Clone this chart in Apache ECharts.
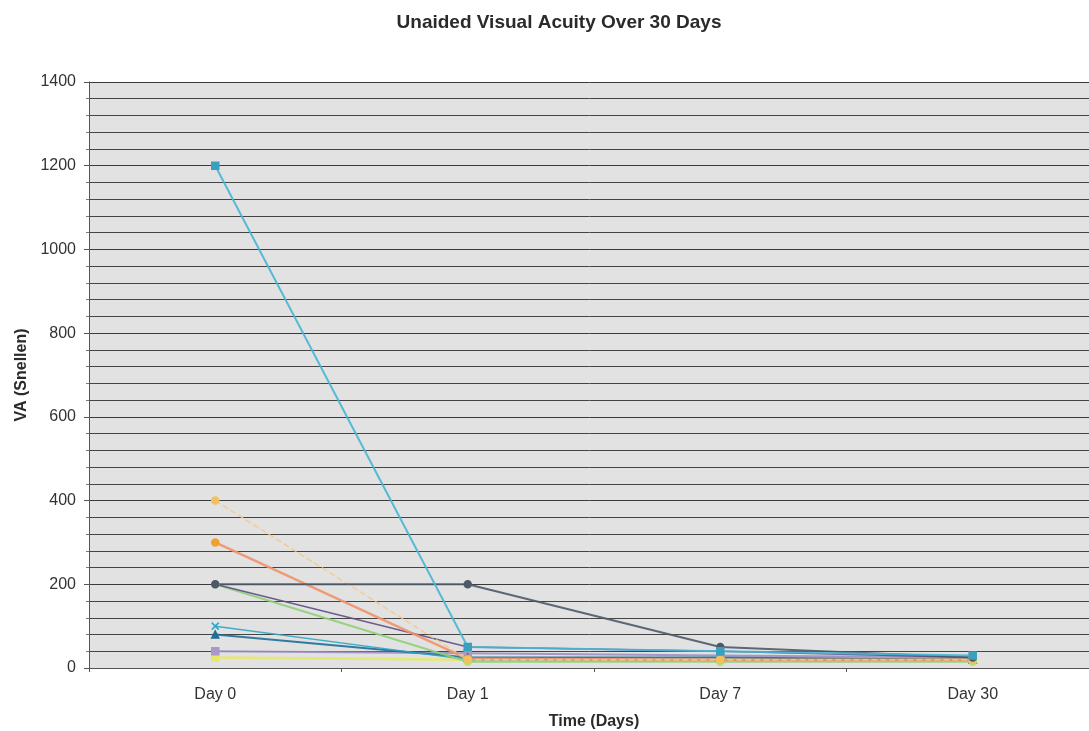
<!DOCTYPE html>
<html>
<head>
<meta charset="utf-8">
<script src="https://cdn.jsdelivr.net/npm/echarts@6/dist/echarts.min.js"></script>
<style>
html,body{margin:0;padding:0;background:#fff;}
#c{width:1089px;height:731px;}
</style>
</head>
<body>
<div id="c"></div>
<script>
const categories = ['Day 0', 'Day 1', 'Day 7', 'Day 30'];
const s1 = [1200, 50, 40, 30];
const s2 = [200, 200, 50, 25];
const s3 = [400, 20, 20, 20];
const s4 = [300, 22, 20, 20];
const s5 = [200, 15, 15, 15];
const s6 = [200, 50, 40, 25];
const s7 = [100, 20, 20, 20];
const s8 = [80, 25, 25, 20];
const s9 = [40, 35, 30, 25];
const s10 = [25, 20, 20, 20];
const yTicks = [0, 200, 400, 600, 800, 1000, 1200, 1400];

const seriesDefs = [
  {data: s10, color: '#e6e86a', symbol: 'rect', mcolor: '#e6e86a', w: 2.5},
  {data: s9, color: '#9c8fc0', symbol: 'rect', mcolor: '#a898c8', w: 2},
  {data: s8, color: '#1f6f96', symbol: 'triangle', mcolor: '#1f6f96', w: 2},
  {data: s7, color: '#2fa6c8', symbol: 'path://M0,0L10,10M10,0L0,10', mcolor: '#2fa6c8', w: 1.5},
  {data: s5, color: '#8fd07a', symbol: 'circle', mcolor: '#b4e07a', w: 2},
  {data: s6, color: '#5e4e86', symbol: 'path://M5,0L5,10M0,5L10,5M1,1L9,9M9,1L1,9', mcolor: '#5e4e86', w: 1.5},
  {data: s4, color: '#f0946a', symbol: 'circle', mcolor: '#f0a030', w: 2.5},
  {data: s3, color: '#f6c98a', symbol: 'circle', mcolor: '#f3c060', w: 1.5, dash: true},
  {data: s2, color: '#4c5a68', symbol: 'circle', mcolor: '#4c5a68', w: 2},
  {data: s1, color: '#48b6d4', symbol: 'rect', mcolor: '#3aa0c0', w: 2}
];

const chart = echarts.init(document.getElementById('c'), null, {renderer: 'canvas'});
chart.setOption({
  backgroundColor: '#ffffff',
  animation: false,
  textStyle: {fontFamily: 'Liberation Sans, Arial, sans-serif'},
  title: {
    text: 'Unaided Visual Acuity Over 30 Days',
    left: 554, top: 8, textAlign: 'center',
    textStyle: {fontSize: 19, fontWeight: 'bold', color: '#2a2a2a', fontFamily: 'Liberation Sans, Arial, sans-serif'}
  },
  grid: {left: 89, top: 82, bottom: 63, width: 1010, show: true, backgroundColor: '#e2e2e2', borderWidth: 0,
    containLabel: false, outerBoundsMode: 'none'},
  xAxis: {
    type: 'category',
    data: categories,
    boundaryGap: true,
    name: 'Time (Days)',
    nameLocation: 'middle',
    nameGap: 46,
    nameTextStyle: {fontSize: 16, fontWeight: 'bold', color: '#2a2a2a'},
    axisLine: {lineStyle: {color: '#555', width: 1}},
    axisTick: {show: true, length: 4, lineStyle: {color: '#555'}},
    axisLabel: {fontSize: 16, color: '#333', margin: 19}
  },
  yAxis: {
    type: 'value',
    min: 0, max: 1400, interval: 200,
    name: 'VA (Snellen)',
    nameLocation: 'middle',
    nameGap: 58,
    nameTextStyle: {fontSize: 16, fontWeight: 'bold', color: '#2a2a2a'},
    axisLine: {show: true, lineStyle: {color: '#555', width: 1}},
    axisTick: {show: true, length: 5, lineStyle: {color: '#555'}},
    minorTick: {show: true, splitNumber: 5, length: 3, lineStyle: {color: '#777'}},
    splitLine: {show: true, lineStyle: {color: '#3a3a3a', width: 1}},
    minorSplitLine: {show: true, lineStyle: {color: '#444', width: 1}},
    axisLabel: {fontSize: 16, color: '#333', margin: 13,
      formatter: v => yTicks.indexOf(v) >= 0 ? String(v) : ''}
  },
  series: seriesDefs.map(d => ({
    type: 'line',
    data: d.data,
    symbol: d.symbol,
    symbolSize: 7,
    showSymbol: true,
    lineStyle: {color: d.color, width: d.w, type: d.dash ? 'dashed' : 'solid', opacity: 0.9},
    itemStyle: {color: d.mcolor, borderColor: d.mcolor, borderWidth: 1.5},
    emphasis: {disabled: true}
  }))
});
</script>
</body>
</html>
